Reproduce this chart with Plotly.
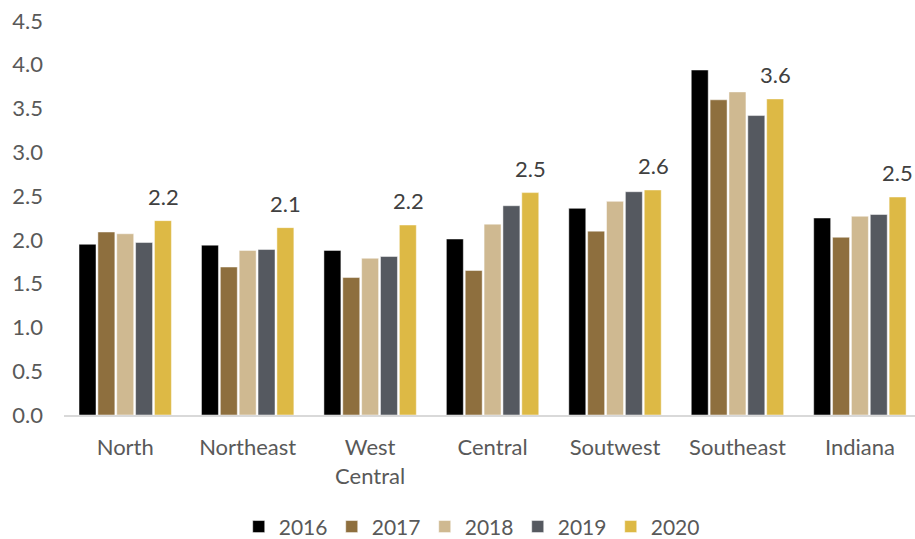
import plotly.graph_objects as go

regions = ["North", "Northeast", "West<br>Central", "Central", "Soutwest", "Southeast", "Indiana"]
years = ["2016", "2017", "2018", "2019", "2020"]

v2016 = [1.95, 1.94, 1.88, 2.01, 2.36, 3.94, 2.25]
v2017 = [2.09, 1.69, 1.57, 1.65, 2.10, 3.60, 2.03]
v2018 = [2.07, 1.88, 1.79, 2.18, 2.44, 3.69, 2.27]
v2019 = [1.97, 1.89, 1.81, 2.39, 2.55, 3.42, 2.29]
v2020 = [2.22, 2.14, 2.17, 2.54, 2.57, 3.61, 2.49]

series = [v2016, v2017, v2018, v2019, v2020]
colors = ["#000000", "#8E6F3E", "#CFB991", "#555960", "#DDB945"]

FONT = "Lato, 'Open Sans', sans-serif"
GREY = "#595959"

fig = go.Figure()
for name, vals, col in zip(years, series, colors):
    fig.add_trace(go.Bar(
        name=name, x=regions, y=vals,
        marker=dict(color=col, line=dict(color="rgba(255,255,255,0.6)", width=0.8)),
    ))

# value labels over the 2020 bars
for r, v in zip(regions, v2020):
    fig.add_annotation(
        x=r, y=v, text=f"{v:.1f}", showarrow=False,
        xref="x", yref="y", yanchor="bottom", yshift=9,
        xshift=2 * 19,
        font=dict(family=FONT, size=22, color="#404040"),
    )

fig.update_layout(
    width=915, height=539,
    margin=dict(l=64, r=0, t=21, b=124, autoexpand=False),
    paper_bgcolor="white", plot_bgcolor="white",
    barmode="group", bargap=0.23, bargroupgap=0.1,
    font=dict(family=FONT, size=22, color=GREY),
    showlegend=True,
    legend=dict(
        orientation="h", xref="container", yref="paper",
        x=0.515, xanchor="center", y=-0.284, yanchor="middle",
        font=dict(family=FONT, size=21, color=GREY),
        itemwidth=30, tracegroupgap=0,
        entrywidth=48, entrywidthmode="pixels",
    ),
    xaxis=dict(
        showgrid=False, showline=True, linecolor="#D9D9D9", linewidth=1.5,
        ticks="", range=[-0.5, 6.45], ticklabelstandoff=12,
        tickfont=dict(family=FONT, size=22, color=GREY),
    ),
    yaxis=dict(
        range=[0, 4.5], dtick=0.5, tickformat=".1f",
        showgrid=False, zeroline=False, showline=False, ticks="",
        ticklabelstandoff=20,
        tickfont=dict(family=FONT, size=22, color=GREY),
    ),
)

fig.write_html("out.html")
